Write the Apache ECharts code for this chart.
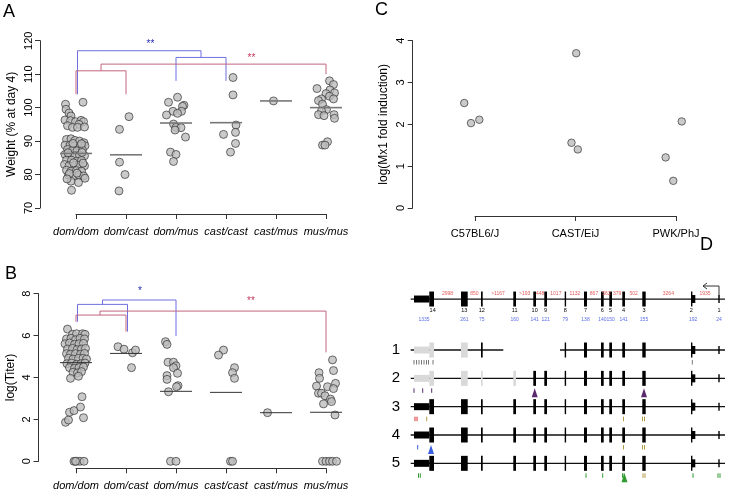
<!DOCTYPE html>
<html><head><meta charset="utf-8">
<script src="https://cdn.jsdelivr.net/npm/echarts@6/dist/echarts.min.js"></script>
<style>html,body{margin:0;padding:0;background:#fff}#c{width:731px;height:495px}</style>
</head><body><div id="c"></div>
<script>
// ---------- DATA ----------
const genotypes = ['dom/dom','dom/cast','dom/mus','cast/cast','cast/mus','mus/mus'];
const strains = ['C57BL6/J','CAST/EiJ','PWK/PhJ'];

// Panel A: weight (% at day 4), points as [jitter (category units), value]
const wDomDom = [[-0.21,101.0],[0.14,101.6],[-0.20,99.5],[-0.14,98.4],[-0.10,97.5],[-0.22,96.3],[-0.11,96.1],[-0.01,95.8],[0.10,96.2],[0.15,95.8],[0.06,95.0],[-0.17,94.6],[-0.07,94.1],[0.03,94.1],[0.17,94.2],
 [-0.19,90.5],[-0.10,90.7],[-0.02,90.2],[0.07,90.0],[0.16,89.5],[-0.22,88.8],[-0.12,88.8],[-0.03,88.5],[0.09,88.6],[0.18,88.6],
 [-0.17,87.5],[-0.07,87.2],[0.02,87.1],[0.13,87.3],[-0.22,86.0],[-0.13,85.8],[-0.02,85.6],[0.07,85.8],[0.17,85.6],
 [-0.19,84.3],[-0.09,84.3],[0.02,84.0],[0.11,84.2],[-0.23,83.0],[-0.14,82.6],[-0.03,82.7],[0.06,82.8],[0.17,82.6],
 [-0.19,81.3],[-0.10,81.0],[0.01,81.2],[0.11,81.0],[-0.15,79.8],[-0.05,79.6],[0.06,79.8],[0.15,79.6],[-0.10,78.0],[0.05,77.6],[-0.09,75.3],
 [-0.06,89.3],[0.11,89.2],[-0.16,86.5],[0.12,86.6],[-0.05,83.5],[0.14,83.4],[-0.13,80.3],[0.02,80.4],[-0.18,78.7],[0.18,78.9]];
const wDomCast = [[0.06,97.3],[-0.13,93.5],[-0.13,83.7],[-0.02,80.0],[-0.14,75.1]];
const wDomMus = [[0.03,103.1],[-0.15,101.6],[0.16,100.7],[0.13,100.4],[-0.06,98.9],[0.11,98.9],[0.03,98.3],[-0.19,97.8],[-0.05,95.1],[0,94.1],[0.10,94.0],[-0.02,93.3],[0.19,91.2],[-0.11,86.7],[0,86.0],[-0.05,83.9]];
const wCastCast = [[0.14,109.0],[0.14,103.8],[0.20,94.8],[-0.05,92.0],[0.19,92.6],[0.19,89.3],[0.09,86.7]];
const wCastMus = [[-0.05,102.0]];
const wMusMus = [[0.07,108.0],[0.15,106.9],[-0.18,105.7],[0.08,105.3],[0.17,104.4],[0,104.2],[0.07,103.4],[-0.09,102.6],[0.15,102.6],[-0.15,102.1],[-0.07,101.0],[0.01,99.4],[-0.09,99.0],[-0.15,97.9],[0.16,97.9],[-0.04,97.6],[0.17,96.8],[0.03,89.8],[-0.07,88.8],[-0.02,88.8]];
const wMeans = [86.3, 85.9, 95.4, 95.5, 102.0, 100.0];

// Panel B: log(Titer)
const tDomDom = [[-0.17,6.31],[-0.07,6.06],[0.01,6.09],[0.13,6.09],[0.18,6.06],
 [-0.19,5.84],[-0.10,5.87],[-0.01,5.80],[0.08,5.87],[0.17,5.84],
 [-0.22,5.61],[-0.13,5.65],[-0.03,5.58],[0.06,5.61],[0.15,5.63],
 [-0.17,5.36],[-0.07,5.39],[0.02,5.33],[0.11,5.36],[0.19,5.39],
 [-0.19,5.14],[-0.11,5.11],[-0.01,5.14],[0.09,5.11],[0.17,5.15],
 [-0.15,4.92],[-0.06,4.88],[0.05,4.92],[0.14,4.92],[0.21,4.88],
 [-0.18,4.66],[-0.09,4.69],[0.01,4.63],[0.10,4.66],[0.18,4.69],
 [-0.13,4.47],[-0.03,4.44],[0.06,4.47],[0.15,4.50],
 [-0.06,4.25],[0.03,4.22],[0.11,4.28],[0.05,4.06],[-0.11,3.96],
 [-0.21,1.86],[-0.15,1.97],[-0.13,2.34],[-0.04,2.42],[0.09,2.59],[0.15,2.08],[0.12,3.08],
 [-0.04,0],[0.01,0],[0.08,0],[0.16,0],[-0.01,0]];
const tDomCast = [[-0.16,5.47],[-0.04,5.35],[0.13,5.18],[0.19,5.31],[0.11,4.47]];
const tDomMus = [[-0.21,5.71],[-0.18,5.58],[-0.16,4.73],[-0.05,4.73],[0,4.56],[-0.05,4.47],[0.03,4.20],[-0.18,4.09],[-0.18,3.91],[0.04,3.61],[0.01,3.56],[-0.15,3.32],[-0.11,0],[0,0]];
const tCastCast = [[-0.05,5.31],[-0.15,5.07],[0.17,4.47],[0.13,4.23],[0.17,3.96],[0.09,0],[0.13,0]];
const tCastMus = [[-0.17,2.32]];
const tMusMus = [[0.13,4.84],[-0.14,4.23],[0.15,4.33],[-0.13,3.96],[0.19,3.72],[-0.19,3.59],[0.03,3.56],[0.15,3.47],[-0.15,3.25],[-0.09,3.25],[-0.02,3.13],[0.09,2.97],[0.11,2.85],[-0.05,2.74],[0.18,2.21],[-0.07,0],[0,0],[0.07,0],[0.13,0],[0.21,0]];
const tMeans = [4.71, 5.15, 3.34, 3.29, 2.32, 2.34];

// Significance brackets [x, y] (data units) and labels
const aBlueBrackets = [[[1.03,104],[1.03,117],[3.5,117],[3.5,115]], [[3,108],[3,115],[4,115],[4,108]]];
const aRedBrackets  = [[[1,104],[1,111],[2,111],[2,104]], [[1.5,111],[1.5,113],[6,113],[6,110]]];
const bBlueBrackets = [[[1.03,6.66],[1.03,7.49],[2.03,7.49],[2.03,6.19]], [[1.53,7.49],[1.53,7.70],[3,7.70],[3,5.98]]];
const bRedBrackets  = [[[1,6.66],[1,6.98],[2,6.98],[2,6.19]], [[1.48,6.98],[1.48,7.17],[6,7.17],[6,5.20]]];
const aStars = [[2.49,118.9,'**','blue'],[4.51,114.8,'**','red']];
const bStars = [[2.28,8.14,'*','blue'],[4.5,7.65,'**','red']];

// Panel C: log(Mx1 fold induction)
const mxC57 = [[-0.107,2.51],[-0.04,2.03],[0.043,2.11]];
const mxCast = [[0.007,3.70],[-0.04,1.56],[0.023,1.40]];
const mxPwk = [[-0.103,1.21],[-0.027,0.65],[0.057,2.07]];

// Panel D: Mx1 gene structure (position along locus, arbitrary units)
const exonNames = ['14','13','12','11','10','9','8','7','6','5','4','3','2','1'];
const exonStart = [19.3,51,71,103.3,123.3,134.3,154.7,174,191,199.3,212.3,232.3,281,308.3];
const exonEnd   = [24,57.7,72.7,106,126,137,156,177,193.7,202,215,235.7,281.7,309.7];
const exonSizes = ['1335','261','75','160','141','121','79','138','140','150','141','155','192','24'];
const intronSizes = ['2998','850','>1167','>193','448','1017','1132','867','562','379','502','3264','1935'];
const utrParts = [[0,4,19.3],[12,281.7,285.3]];   // [exon index, start, end]
const locusSpan = [0.7, 315];
const tssPos = 309;
const alleles = ['1','2','3','4','5'];
const alleleGaps = [[[0.7,93.3],[150,315]], [[0.7,315]], [[0.7,315]], [[0.7,315]], [[0.7,315]]];
const alleleMissing = [[3,4,5],[],[],[],[]];
const alleleGrey = [[0,1],[0,1,2,3],[],[],[]];
// variant marks: [allele, position, class, kind]
const variants = [
 [1,4,'gray','tick'],[1,6.5,'gray','tick'],[1,9,'gray','tick'],[1,11.5,'gray','tick'],[1,14,'gray','tick'],[1,16.5,'gray','tick'],[1,18.5,'gray','tick'],[1,23,'gray','tick'],[1,282.3,'gray','tick'],
 [2,4,'purple','tick'],[2,12.7,'purple','tick'],[2,21.7,'purple','tick'],[2,124.7,'purple','tri'],[2,234,'purple','tri'],
 [3,5,'red','tick'],[3,7,'red','tick'],[3,16.7,'olive','tick'],[3,213.5,'olive','tick'],[3,232.5,'olive','tick'],[3,234.5,'olive','tick'],
 [4,7.7,'blue','tick'],[4,21,'blue','tri'],[4,213.5,'olive','tick'],[4,232.5,'olive','tick'],[4,234.5,'olive','tick'],
 [5,8.5,'green','tick'],[5,10.3,'green','tick'],[5,176,'green','tick'],[5,192.7,'green','tick'],[5,212.5,'green','tick'],[5,214,'green','tick'],[5,214.5,'green','tri'],[5,233,'olive','tick'],[5,235,'olive','tick'],[5,283,'green','tick'],[5,308,'green','tick'],[5,310,'green','tick']
];

// ---------- RENDER ----------
const FONT = '"Liberation Sans", Arial, Helvetica, sans-serif';
const AX = '#333';
const chart = echarts.init(document.getElementById('c'));

function pts(groups){ const o=[]; groups.forEach((g,i)=>g.forEach(p=>o.push([i+1+p[0], p[1]]))); return o; }
function xAx(grid, labels, offset, italic){
  return {type:'value', gridIndex:grid, min:1, max:labels.length, interval:1, offset,
    axisLine:{show:true,onZero:false,lineStyle:{color:AX,width:1}},
    axisTick:{show:true,length:5,lineStyle:{color:AX}}, splitLine:{show:false},
    axisLabel:{formatter:v=>labels[Math.round(v)-1]||'', fontStyle:italic?'italic':'normal', fontSize:11, color:'#000', margin:12, fontFamily:FONT}};
}
function yAx(grid, min, max, interval, offset, name, gap){
  return {type:'value', gridIndex:grid, min, max, interval, offset, name, nameLocation:'middle', nameGap:gap,
    nameTextStyle:{fontSize:12, color:'#000', fontFamily:FONT},
    axisLine:{show:true,onZero:false,lineStyle:{color:AX,width:1}},
    axisTick:{show:true,length:5,lineStyle:{color:AX}}, splitLine:{show:false},
    axisLabel:{rotate:90, fontSize:11, color:'#000', margin:6, fontFamily:FONT}};
}
const pointStyle = {color:'#bdbdbd', borderColor:'#222', borderWidth:0.8};
function scat(xi, data, size){ return {type:'scatter', xAxisIndex:xi, yAxisIndex:xi, data, symbolSize:size, itemStyle:pointStyle, clip:false, z:3}; }
function means(xi, vals, color, width){
  return {type:'custom', xAxisIndex:xi, yAxisIndex:xi, data: vals.map((v,i)=>[i+1,v]), z:4,
    renderItem:(p,api)=>{ const a=api.coord([api.value(0)-0.32, api.value(1)]); const b=api.coord([api.value(0)+0.32, api.value(1)]);
      return {type:'line', shape:{x1:a[0],y1:a[1],x2:b[0],y2:b[1]}, style:{stroke:color, lineWidth:width}}; }};
}
const BR = {blue:'#6f6fe0', red:'#c2657f'};
const STAR = {blue:'#2a2ab8', red:'#c23a5c'};
function brackets(xi, list, color){ return list.map(l=>({type:'line', xAxisIndex:xi, yAxisIndex:xi, data:l, symbol:'none', lineStyle:{color, width:1}, z:2, silent:true})); }
function stars(xi, list){
  return {type:'custom', xAxisIndex:xi, yAxisIndex:xi, data:list, z:5,
    renderItem:(p,api)=>{ const d=list[p.dataIndex]; const c=api.coord([d[0],d[1]]);
      return {type:'text', x:c[0], y:c[1], style:{text:d[2], fill:STAR[d[3]], fontSize:10, fontFamily:FONT, align:'center', verticalAlign:'middle'}}; }};
}

// Panel D rendering
const REF = -0.8;
const VC = {gray:'#777', purple:'#5b2a6e', red:'#e03030', olive:'#b09a44', blue:'#3c5ee0', green:'#2f9a2f'};
const dRows = [REF].concat(alleles.map((a,i)=>i+1));
const backboneData = [[REF, locusSpan[0], locusSpan[1]]];
alleleGaps.forEach((segs,i)=>segs.forEach(s=>backboneData.push([i+1, s[0], s[1]])));
const exonData = [];
dRows.forEach((r,ri)=>{
  const ai = ri-1;
  exonNames.forEach((n,ei)=>{
    if (ai>=0 && alleleMissing[ai].includes(ei)) return;
    const grey = ai>=0 && alleleGrey[ai].includes(ei) ? 1 : 0;
    const kind = ei===13 ? 3 : 0;
    exonData.push([r, exonStart[ei], exonEnd[ei], kind, grey]);
    utrParts.forEach(u=>{ if(u[0]===ei) exonData.push([r, u[1], u[2], ei===0?1:2, grey]); });
  });
});
const HALF = [7.5, 3.5, 4, 4];

const option = {
  animation:false,
  backgroundColor:'#fff',
  title:[
    {text:'A', left:3, top:3, padding:0, textStyle:{fontSize:18, fontWeight:'normal', color:'#000', fontFamily:FONT}},
    {text:'B', left:5, top:265, padding:0, textStyle:{fontSize:18, fontWeight:'normal', color:'#000', fontFamily:FONT}},
    {text:'C', left:375, top:1, padding:0, textStyle:{fontSize:18, fontWeight:'normal', color:'#000', fontFamily:FONT}},
    {text:'D', left:700, top:236, padding:0, textStyle:{fontSize:18, fontWeight:'normal', color:'#000', fontFamily:FONT}}
  ],
  grid:[
    {left:76, top:40.7, width:250, height:167.3},
    {left:76, top:293.7, width:250, height:167.6},
    {left:475, top:40.7, width:201, height:167.3},
    {left:410, top:279.2, width:315, height:198.3}
  ],
  xAxis:[
    xAx(0, genotypes, 6, true),
    xAx(1, genotypes, 7, true),
    xAx(2, strains, 8, false),
    {type:'value', gridIndex:3, min:0, max:315, show:false}
  ],
  yAxis:[
    yAx(0, 70, 120, 10, 36, 'Weight (% at day 4)', 22),
    yAx(1, 0, 8, 2, 37.5, 'log(Titer)', 22),
    yAx(2, 0, 4, 1, 62.3, 'log(Mx1 fold induction)', 23),
    {type:'value', gridIndex:3, min:-1.5, max:5.5, inverse:true, show:false}
  ],
  series:[
    ...brackets(0, aBlueBrackets, BR.blue), ...brackets(0, aRedBrackets, BR.red),
    ...brackets(1, bBlueBrackets, BR.blue), ...brackets(1, bRedBrackets, BR.red),
    stars(0, aStars), stars(1, bStars),
    scat(0, pts([wDomDom,wDomCast,wDomMus,wCastCast,wCastMus,wMusMus]), 8),
    scat(1, pts([tDomDom,tDomCast,tDomMus,tCastCast,tCastMus,tMusMus]), 8),
    scat(2, pts([mxC57,mxCast,mxPwk]), 7.5),
    means(0, wMeans, '#777', 1.6),
    means(1, tMeans, '#333', 1),
    // D backbone
    {type:'custom', xAxisIndex:3, yAxisIndex:3, data:backboneData, z:2,
      renderItem:(p,api)=>{ const a=api.coord([api.value(1),api.value(0)]), b=api.coord([api.value(2),api.value(0)]);
        return {type:'line', shape:{x1:a[0],y1:a[1],x2:b[0],y2:b[1]}, style:{stroke:'#111', lineWidth:1.3}}; }},
    // D exons
    {type:'custom', xAxisIndex:3, yAxisIndex:3, data:exonData, z:3,
      renderItem:(p,api)=>{ const a=api.coord([api.value(1),api.value(0)]), b=api.coord([api.value(2),api.value(0)]);
        const h=HALF[api.value(3)]; const w=Math.max(b[0]-a[0], 1.4);
        return {type:'rect', shape:{x:a[0], y:a[1]-h, width:w, height:2*h}, style:{fill: api.value(4)?'#d9d9d9':'#000'}}; }},
    // D variants
    {type:'custom', xAxisIndex:3, yAxisIndex:3, data:variants, z:4,
      renderItem:(p,api)=>{ const v=variants[p.dataIndex]; const c=api.coord([v[1], v[0]]); const col=VC[v[2]];
        if (v[3]==='tri') return {type:'polygon', shape:{points:[[c[0],c[1]+10],[c[0]-3,c[1]+19],[c[0]+3,c[1]+19]]}, style:{fill:col}};
        return {type:'line', shape:{x1:c[0],y1:c[1]+10,x2:c[0],y2:c[1]+14.5}, style:{stroke:col, lineWidth:1}}; }},
    // D reference labels, allele names, TSS arrow
    {type:'custom', xAxisIndex:3, yAxisIndex:3, data:[0], z:5,
      renderItem:(p,api)=>{
        const ch=[];
        exonNames.forEach((n,i)=>{
          const s = i===0 ? utrParts[0][1] : exonStart[i];
          const e = i===12 ? utrParts[1][2] : exonEnd[i];
          const cN = api.coord([exonEnd[i]-(exonEnd[i]-exonStart[i])/2 + (i===0?1:0), REF]);
          const cS = api.coord([(s+e)/2, REF]);
          ch.push({type:'text', x:cN[0], y:cN[1]+11, style:{text:n, fill:'#000', fontSize:5.5, fontFamily:FONT, align:'center', verticalAlign:'middle'}});
          ch.push({type:'text', x:cS[0], y:cS[1]+21, style:{text:exonSizes[i], fill:'#5a6ee8', fontSize:5, fontFamily:FONT, align:'center', verticalAlign:'middle'}});
        });
        intronSizes.forEach((t,i)=>{
          const c = api.coord([(exonEnd[i]+exonStart[i+1])/2, REF]);
          ch.push({type:'text', x:c[0], y:c[1]-5, style:{text:t, fill:'#e85a5a', fontSize:5, fontFamily:FONT, align:'center', verticalAlign:'middle'}});
        });
        alleles.forEach((a,i)=>{
          const c = api.coord([0, i+1]);
          ch.push({type:'text', x:c[0]-14, y:c[1], style:{text:a, fill:'#000', fontSize:15, fontFamily:FONT, align:'center', verticalAlign:'middle'}});
        });
        const t = api.coord([tssPos, REF]);
        ch.push({type:'polyline', shape:{points:[[t[0],t[1]],[t[0],t[1]-13],[t[0]-16,t[1]-13]]}, style:{stroke:'#333', lineWidth:1, fill:null}});
        ch.push({type:'polyline', shape:{points:[[t[0]-12,t[1]-16],[t[0]-16,t[1]-13],[t[0]-12,t[1]-10]]}, style:{stroke:'#333', lineWidth:1, fill:null}});
        return {type:'group', children:ch};
      }}
  ]
};
chart.setOption(option);
</script></body></html>
